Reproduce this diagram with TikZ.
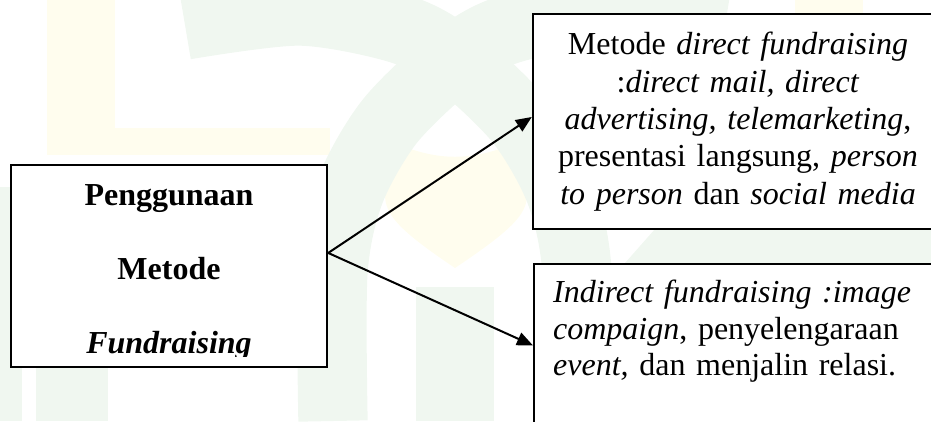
\documentclass[tikz,border=0pt]{standalone}
\usepackage{fontspec}
\setmainfont{Liberation Serif}
\usetikzlibrary{arrows.meta}
\definecolor{wmgreen}{RGB}{240,247,240}
\definecolor{wmyellow}{RGB}{255,253,238}
\begin{document}
\begin{tikzpicture}[x=0.375pt,y=0.375pt,
		kotak/.style={draw,line width=0.9pt,fill=white,inner sep=0pt},
		panah/.style={line width=0.75pt,-{Triangle[length=6pt,width=5pt]}},
		pita/.style={wmgreen,line width=26pt}]
		\useasboundingbox (0,0) rectangle (931,421);
		% logo pudar di latar belakang
		\begin{scope}
			\clip (0,0) rectangle (931,421);
			\fill[wmyellow] (47,266) rectangle (115,421);
			\fill[wmyellow] (115,266) rectangle (330,293);
			\fill[wmyellow] (795,266) rectangle (863,421);
			\fill[wmyellow] (455,153) .. controls (400,190) and (385,206) .. (385,226) -- (405,274) .. controls (440,261) and (470,261) .. (505,274) -- (527,226) .. controls (527,206) and (510,190) .. (455,153);
			\draw[pita] plot[smooth] coordinates {(185,396) (300,410) (400,392) (455,362) (520,300) (560,230) (577,150) (577,0)};
			\draw[pita] plot[smooth] coordinates {(725,396) (610,410) (510,392) (455,362) (390,300) (350,230) (333,150) (333,0)};
			\fill[wmgreen] (416,0) rectangle (494,134);
			\fill[wmgreen] (0,0) rectangle (22,234);
			\fill[wmgreen] (36,0) rectangle (108,100);
			\fill[wmgreen] (625,158) -- (655,192) -- (931,192) -- (931,158) -- cycle;
		\end{scope}
		% kotak kiri
		\node[kotak,minimum width=118.5pt,minimum height=75.75pt] (metode) at (169,155) {};
		\begin{scope}
			\clip (11,65) rectangle (327,256);
			\node[align=center,inner sep=0pt,font=\bfseries\fontsize{12}{27.75}\selectfont] (metodeteks) at (169,149) {Penggunaan\\Metode\\\textit{Fundraising}};
		\end{scope}
		% kotak kanan
		\node[kotak,minimum width=153.75pt,minimum height=80.6pt,text width=140pt,align=center,font=\fontsize{12}{14}\selectfont] (langsung) at (738,299.5) {Metode \textit{direct fundraising}\\:\textit{direct mail, direct}\\\textit{advertising, telemarketing},\\presentasi langsung, \textit{person}\\\textit{to person} dan \textit{social media}};
		\node[kotak,anchor=north west,text width=139.5pt,align=left,inner xsep=7.1pt,inner ysep=6pt,text depth=40.5pt,font=\fontsize{12}{13.7}\selectfont] (taklangsung) at (533,158) {\textit{Indirect fundraising :image}\\\textit{compaign}, penyelengaraan\\\textit{event,} dan menjalin relasi.};
		\draw[panah] ([yshift=4.9pt]metode.east) -- ([yshift=1.7pt]langsung.west);
		\draw[panah] ([yshift=4.9pt]metode.east) -- (taklangsung.west);
\end{tikzpicture}
\end{document}
